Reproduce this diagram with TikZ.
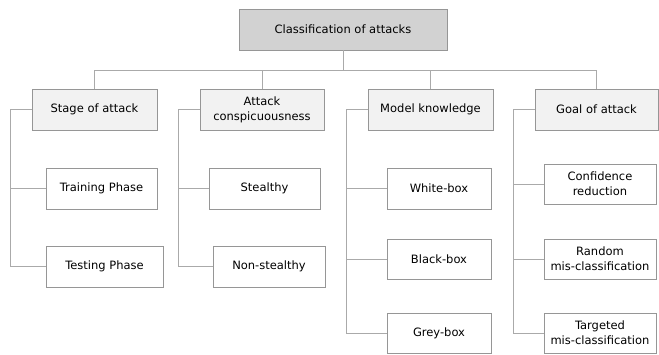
\documentclass[tikz,border=0pt]{standalone}
\usepackage{fontspec}
\setmainfont{DejaVu Sans}
\usepackage{xcolor}
\usepackage{tikz}
\usetikzlibrary{positioning, calc}

\definecolor{rootgray}{RGB}{210,210,210}
\definecolor{catgray}{RGB}{242,242,242}
\definecolor{edgegray}{RGB}{150,150,150}
\definecolor{linkgray}{RGB}{170,170,170}

\begin{document}
\begin{tikzpicture}[
    x=1pt, y=-1pt,
    box/.style={draw=edgegray, line width=0.8pt, minimum height=41pt, align=center, inner sep=0pt, font=\fontsize{11.5}{15}\selectfont},
    category/.style={box, fill=catgray},
    link/.style={draw=linkgray, line width=0.8pt}
]
    \useasboundingbox (0,0) rectangle (659,354);

    % Root
    \node[box, fill=rootgray, minimum width=208pt] (root) at (343,29.5) {Classification of attacks};

    % Categories
    \node[category, minimum width=125pt] (stage) at (94.5,109.5) {Stage of attack};
    \node[category, minimum width=124pt] (consp) at (262,109.5) {Attack\\conspicuousness};
    \node[category, minimum width=125pt] (model) at (430.5,109.5) {Model knowledge};
    \node[category, minimum width=123pt] (goal) at (596.5,109.5) {Goal of attack};

    \draw[link] (root.south) -- ++(0,20) coordinate (bus);
    \draw[link] (bus) -| (stage.north);
    \draw[link] (bus) -| (consp.north);
    \draw[link] (bus) -| (model.north);
    \draw[link] (bus) -| (goal.north);

    % Stage of attack
    \node[box, minimum width=111pt] (train) at (101.5,188.5) {Training Phase};
    \node[box, minimum width=117pt] (test) at (104.5,266.5) {Testing Phase};
    \draw[link] (stage.west) -- ++(-21,0) |- (test.west);
    \draw[link] (stage.west) -- ++(-21,0) |- (train.west);

    % Attack conspicuousness
    \node[box, minimum width=111pt] (stealthy) at (264.5,188.5) {Stealthy};
    \node[box, minimum width=112pt] (nonstealthy) at (269,266.5) {Non-stealthy};
    \draw[link] (consp.west) -- ++(-21,0) |- (nonstealthy.west);
    \draw[link] (consp.west) -- ++(-21,0) |- (stealthy.west);

    % Model knowledge
    \node[box, minimum width=104pt] (white) at (439,188.5) {White-box};
    \node[box, minimum width=104pt, minimum height=40pt] (black) at (439,259) {Black-box};
    \node[box, minimum width=104pt, minimum height=40pt] (grey) at (439,333) {Grey-box};
    \draw[link] (model.west) -- ++(-21,0) |- (grey.west);
    \draw[link] (model.west) -- ++(-21,0) |- (black.west);
    \draw[link] (model.west) -- ++(-21,0) |- (white.west);

    % Goal of attack
    \node[box, minimum width=112pt, minimum height=40pt] (conf) at (600,184) {Confidence\\reduction};
    \node[box, minimum width=112pt, minimum height=40pt] (random) at (600,259) {Random\\mis-classification};
    \node[box, minimum width=112pt, minimum height=40pt] (target) at (600,333) {Targeted\\mis-classification};
    \draw[link] (goal.west) -- ++(-21,0) |- (target.west);
    \draw[link] (goal.west) -- ++(-21,0) |- (random.west);
    \draw[link] (goal.west) -- ++(-21,0) |- (conf.west);
\end{tikzpicture}
\end{document}
